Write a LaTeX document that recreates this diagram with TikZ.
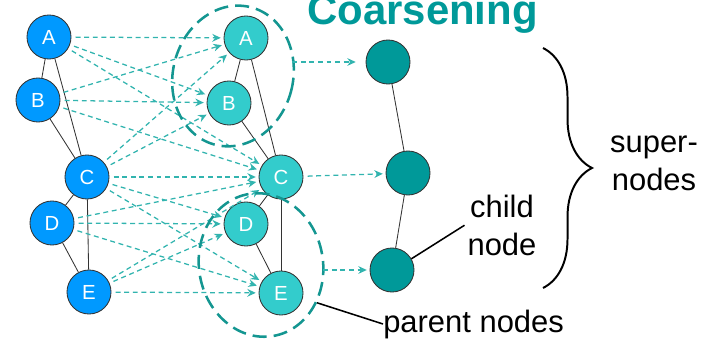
\documentclass[tikz,border=0pt]{standalone}
\usepackage{fontspec}
\setmainfont{Liberation Sans}
\usepackage{tikz}
\usetikzlibrary{positioning,arrows.meta,shapes.geometric,decorations.pathreplacing}
\definecolor{origblue}{HTML}{0099FF}
\definecolor{coarseturq}{HTML}{33CCCC}
\definecolor{superteal}{HTML}{009999}
\definecolor{flowcol}{RGB}{50,180,175}
\definecolor{grpcol}{RGB}{20,150,145}

\begin{document}
\begin{tikzpicture}[x=0.025cm, y=0.025cm,
    gnode/.style={circle, draw=black!80, line width=0.6pt, minimum size=1.1cm,
      inner sep=0pt, text=white, font=\fontsize{14.5}{17}\selectfont},
    lnode/.style={gnode, fill=origblue},
    mnode/.style={gnode, fill=coarseturq},
    snode/.style={gnode, fill=superteal},
    edge/.style={draw=black!80, line width=0.6pt},
    flow/.style={draw=flowcol, line width=0.9pt, dash pattern=on 3.5pt off 2.6pt,
      -{Stealth[length=6pt, width=5.5pt, inset=2pt]}, shorten >=2pt, shorten <=3pt},
    grp/.style={ellipse, draw=grpcol, line width=1.8pt, dash pattern=on 10pt off 5pt,
      inner sep=0pt},
    note/.style={draw=black, line width=1.1pt},
    lbl/.style={align=center, inner sep=2pt, font=\fontsize{22}{26.6}\selectfont}]
    \useasboundingbox (0,0) rectangle (714,-340);
    \clip (0,0) rectangle (714,-340);
    % original graph (left) and coarsened copy (middle)
    \foreach \n/\x/\y in {A/49/37, B/38/100, C/87/177, D/52/223, E/89/292}
      \node[lnode] (l\n) at (\x,-\y) {\n};
    \foreach \n/\x/\y in {A/246/38, B/229/103, C/281/177, D/246/224, E/281/293}
      \node[mnode] (m\n) at (\x,-\y) {\n};
    \foreach \a/\b in {A/B, A/C, B/C, C/D, C/E, D/E} {
      \draw[edge] (l\a) -- (l\b);
      \draw[edge] (m\a) -- (m\b);
    }
    % each node maps to itself and to its neighbours
    \foreach \a/\b in {A/A, A/B, A/C, B/A, B/B, B/C, C/A, C/B, C/C, C/D, C/E,
                       D/C, D/D, D/E, E/C, E/D, E/E}
      \draw[flow] (l\a) -- (m\b);
    % groups of parent nodes
    \node[grp, minimum width=3cm, minimum height=3.55cm, rotate=-15] (topgrp) at (233,-76) {};
    \node[grp, minimum width=3.1cm, minimum height=3.6cm, rotate=10] (botgrp) at (261,-265) {};
    % super-nodes
    \node[snode] (s1) at (388,-62) {};
    \node[snode] (s2) at (408,-173) {};
    \node[snode] (s3) at (392,-270) {};
    \draw[edge] (s1) -- (s2);
    \draw[edge] (s2) -- (s3);
    \draw[flow, shorten <=0pt, shorten >=7pt] (topgrp.east |- s1) -- (s1);
    \draw[flow] (mC) -- (s2);
    \draw[flow, shorten <=0pt] (botgrp.east |- s3) -- (s3);
    % title
    \node[anchor=base west, inner sep=0pt, text=superteal,
      font=\fontsize{29.8}{34}\selectfont\bfseries] (title) at (307,-25) {Coarsening};
    % labels
    \draw[decorate, decoration={brace, amplitude=1.225cm}, line width=1.4pt]
      (543,-48) -- (543,-288);
    \node[lbl, anchor=base] (superlbl) at (654,-190) {super-\\nodes};
    \node[lbl, anchor=base] (childlbl) at (502,-255) {child\\node};
    \node[lbl, anchor=base west, inner sep=0pt] (parentlbl) at (383,-332) {parent nodes};
    \draw[note] (s3.30) -- (childlbl.west);
    \draw[note] (botgrp.-44) -- (parentlbl.west);
\end{tikzpicture}
\end{document}
